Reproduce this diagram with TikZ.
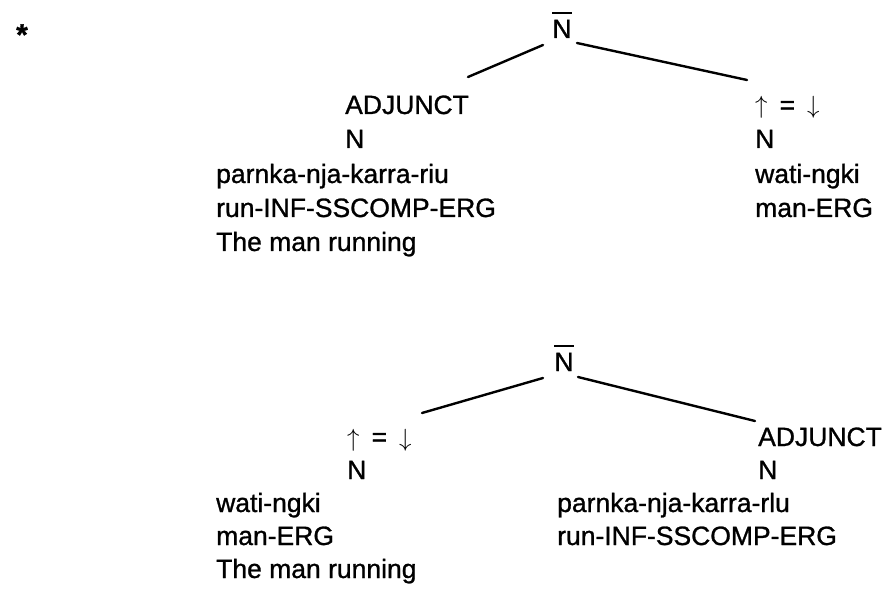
\documentclass[tikz,border=0pt]{standalone}
\usepackage{fontspec}
\setmainfont{Liberation Sans}[FakeBold=1]
\begin{document}
\begin{tikzpicture}[x=1pt,y=-1pt,
  lbl/.style={anchor=base west,inner sep=0pt,font=\fontsize{26.5}{30}\selectfont},
  rootlbl/.style={anchor=base,inner sep=0pt,font=\fontsize{26.5}{30}\selectfont},
  branch/.style={line width=2.4pt,line cap=round},
  bar/.style={line width=2pt}]
\newcommand{\updown}{$\uparrow$\hspace{12pt}=\hspace{12pt}$\downarrow$}
\useasboundingbox (0,0) rectangle (887,596);
% star
\node[anchor=base,inner sep=0pt,font=\fontsize{30}{30}\selectfont\bfseries] (star) at (22,45) {*};
% ---- top tree ----
\node[rootlbl] (r1) at (562,38) {N};
\draw[bar] ([yshift=7pt]r1.north west) -- ([yshift=7pt]r1.north east);
\node[lbl] (adj1) at (345,114) {ADJUNCT};
\node[lbl] (n1l) at (345,148) {N};
\node[lbl] (w1a) at (216,183) {parnka-nja-karra-riu};
\node[lbl] (w1b) at (216,217) {run-INF-SSCOMP-ERG};
\node[lbl] (w1c) at (216,251) {The man running};
\node[lbl] (eq1) at (755,114) {\updown};
\node[lbl] (n1r) at (755,148) {N};
\node[lbl] (w1d) at (755,183) {wati-ngki};
\node[lbl] (w1e) at (755,217) {man-ERG};
\coordinate (r1l) at (543,45);
\coordinate (r1r) at (577,43);
\coordinate (c1l) at (468,77);
\coordinate (c1r) at (747,80);
\draw[branch] (r1l) -- (c1l);
\draw[branch] (r1r) -- (c1r);
% ---- bottom tree ----
\node[rootlbl] (r2) at (564,371) {N};
\draw[bar] ([yshift=7pt]r2.north west) -- ([yshift=7pt]r2.north east);
\node[lbl] (eq2) at (347,446) {\updown};
\node[lbl] (n2l) at (347,479) {N};
\node[lbl] (w2a) at (216,512) {wati-ngki};
\node[lbl] (w2b) at (216,545) {man-ERG};
\node[lbl] (w2c) at (216,578) {The man running};
\node[lbl] (adj2) at (758,446) {ADJUNCT};
\node[lbl] (n2r) at (758,479) {N};
\node[lbl] (w2d) at (557,512) {parnka-nja-karra-rlu};
\node[lbl] (w2e) at (557,545) {run-INF-SSCOMP-ERG};
\coordinate (r2l) at (543,378);
\coordinate (r2r) at (578,377);
\coordinate (c2l) at (422,413);
\coordinate (c2r) at (755,421);
\draw[branch] (r2l) -- (c2l);
\draw[branch] (r2r) -- (c2r);
\end{tikzpicture}
\end{document}
